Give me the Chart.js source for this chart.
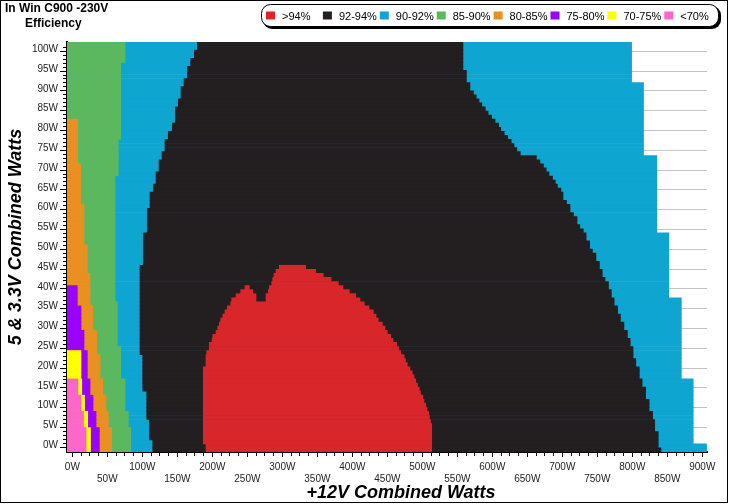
<!DOCTYPE html>
<html>
<head>
<meta charset="utf-8">
<title>In Win C900 -230V Efficiency</title>
<script src="https://cdn.jsdelivr.net/npm/chart.js@4.4.0/dist/chart.umd.min.js"></script>
<style>
  body { margin: 0; background: #fff; }
  #wrap { width: 729px; height: 504px; }
</style>
</head>
<body>
<div id="wrap"><canvas id="eff" width="729" height="504"></canvas></div>
<script>
// 5V & 3.3V combined load for each row of the map (W), bottom to top
var rowWatts = [0,1,2,3,4,5,6,7,8,9,10,11,12,13,14,15,16,17,18,19,20,21,22,23,24,25,26,27,28,29,
  30,31,32,33,34,35,36,37,38,39,40,41,42,43,44,45,46,47,48,49,50,51,52,53,54,55,56,57,58,59,
  60,61,62,63,64,65,66,67,68,69,70,71,72,73,74,75,76,77,78,79,80,81,82,83,84,85,86,87,88,89,
  90,91,92,93,94,95,96,97,98,99,100];

var bandLabels = ['>94%', '92-94%', '90-92%', '85-90%', '80-85%', '75-80%', '70-75%', '<70%'];
var bandColors = ['#d9262b', '#231f20', '#0ea5d1', '#5cb85f', '#ea8f22', '#9900ff', '#ffff00', '#ff66cc'];

// +12V load (W) where each band ends, one value per row (row 0 = 0W)
var pinkEnd = [19.6,19.6,19.6,19.6,19.6,19.6,16,16,16,16,
  12.4,12.4,12.4,12.4,8,8,8,8];

var yellowEnd = [26,26,26,26,26,26,22,22,22,22,
  17.5,17.5,17.5,17.5,13.5,13.5,13.5,13.5,12.4,12.4,
  12.4,12.4,12.4,12.4,12.4];

var purpleEnd = [38.6,38.6,38.6,38.6,38.6,38.6,33.9,33.9,33.9,33.9,
  29.6,29.6,29.6,29.6,25.3,25.3,25.3,25.3,21.4,21.4,
  21.4,21.4,21.4,21.4,21.4,16.7,16.7,16.7,16.7,16.7,
  12.4,12.4,12.4,12.4,12.4,12.4,7.1,7.1,7.1,7.1,
  7.1];

var orangeEnd = [56.3,56.3,56.3,56.3,56.3,56.3,51.4,51.4,51.4,51.4,
  48.1,48.1,48.1,48.1,43.4,43.4,43.4,43.4,39.6,39.6,
  39.6,39.6,39.6,39.6,34.9,34.9,34.9,34.9,34.9,34.9,
  29.1,29.1,29.1,29.1,29.1,29.1,25.3,25.3,25.3,25.3,
  25.3,25.3,25.3,25.3,21.4,21.4,21.4,21.4,21.4,21.4,
  21.4,16.7,16.7,16.7,16.7,16.7,16.7,16.7,16.7,16.7,
  16.7,12,12,12,12,12,12,12,12,12,
  12,7.7,7.7,7.7,7.7,7.7,7.7,7.7,7.7,7.7,
  7.7,7.7];

var greenEnd = [83.4,83.4,83.4,83.4,83.4,83.4,80,80,80,80,
  75.3,75.3,75.3,75.3,75.3,75.3,75.3,75.3,69.1,69.1,
  69.1,69.1,69.1,69.1,69.1,69.1,64.3,64.3,64.3,64.3,
  64.3,64.3,64.3,64.3,64.3,64.3,64.3,61,61,61,
  61,61,61,61,61,61,61,61,61,61,
  61,61,61,61,61,61,61,61,61,61,
  61,61,61,61,61,61,61,61,65.7,65.7,
  65.7,65.7,65.7,65.7,65.7,65.7,65.7,69.1,69.1,69.1,
  69.1,69.1,69.1,69.1,69.1,69.1,69.1,69.1,69.1,69.1,
  69.1,69.1,69.1,69.1,69.1,69.1,75.3,75.3,75.3,75.3,
  75.3];

var blueEnd = [906,906,887,887,887,887,887,887,887,887,
  887,887,887,887,887,887,887,887,870,870,
  870,870,870,870,870,870,870,870,870,870,
  870,870,870,870,870,870,870,870,852,852,
  852,852,852,852,852,852,852,852,852,852,
  852,852,852,852,835,835,835,835,835,835,
  835,835,835,835,835,835,835,835,835,835,
  835,835,835,816,816,816,816,816,816,816,
  816,816,816,816,816,816,816,816,816,816,
  816,799,799,799,799,799,799,799,799,799,
  799];

var blackStart = [114.9,114.9,114.9,110,110,110,110,110,106.3,106.3,
  106.3,106.3,106.3,106.3,106.3,100.6,100.6,100.6,100.6,100.6,
  100.6,100.6,100.6,100.6,96.7,96.7,96.7,96.7,96.7,96.7,
  96.7,96.7,96.7,96.7,96.7,96.7,96.7,96.7,96.7,96.7,
  96.7,96.7,96.7,96.7,96.7,96.7,101.4,101.4,101.4,101.4,
  101.4,101.4,101.4,101.4,107.1,107.1,107.1,107.1,107.1,107.1,
  111,111,111,111,115.7,115.7,119.6,119.6,119.6,123.9,
  123.9,123.9,128.1,128.1,132.4,132.4,132.4,137.1,137.1,142.9,
  142.9,147.1,147.1,147.1,147.1,151.4,151.4,155.3,155.3,155.3,
  159.6,159.6,164.3,164.3,164.3,169.1,169.1,174.3,174.3,178.6,
  178.6];

var blackEnd = [841,837,837,837,837,832,832,832,829,829,
  824,824,824,819,819,819,814,814,810,810,
  810,805,805,801,801,801,797,797,793,793,
  788,788,783,783,779,779,774,774,770,770,
  766,766,761,757,757,753,753,748,748,743,
  739,739,734,734,730,725,721,721,716,711,
  711,706,701,701,698,693,690,686,681,677,
  673,668,663,640,635,631,627,622,617,612,
  609,604,599,594,590,585,581,577,573,568,
  568,563,563,563,558,558,558,558,558,558,
  558];

var redStart = [191,191,187.1,187.1,187.1,187.1,187.1,187.1,187.1,187.1,
  187.1,187.1,187.1,187.1,187.1,187.1,187.1,187.1,187.1,187.1,
  187.1,191,191,191,192,195.7,195.7,199.6,200.6,205.3,
  207.7,210,212,214.9,218.1,221.4,226.3,276.7,276.7,280,
  281.4,284.9,286.3,288.1,291,295.7];

var redEnd = [513.4,513.4,513.4,513.4,513.4,513.4,513.4,511.7,510.3,509.1,
  506.7,505,502.4,500.6,497.4,495.7,493.1,490.6,488.1,485.7,
  482.4,478.6,476,473.9,469.1,466,463.4,458.1,454.9,450,
  446.7,442.9,437.1,433.9,430,423.9,417.1,411,404.9,395.7,
  386.7,380,369.6,358.6,347.7,333.4];

// the small >94% hump left of the main peak
var humpRows = [37, 38, 39, 40];
var humpStart = [227.7, 233.9, 240.6, 246.7];
var humpEnd = [262.4, 262.4, 257.7, 252.9];

var X_MIN = -7.6, X_MAX = 906.7;
var Y_MIN = -1.175, Y_MAX = 101.325;

function spans(a, b) {
  return a.map(function(v, i) { return v == null ? null : [v, b[i]]; });
}
var humpSpans = [];
humpRows.forEach(function(r, i) { humpSpans[r] = [humpStart[i], humpEnd[i]]; });

var FONT = '"Liberation Sans", Arial, sans-serif';

// frame, titles and legend box
var decor = {
  id: 'decor',
  beforeDraw: function(chart) {
    var c = chart.ctx;
    c.save();
    c.fillStyle = '#fff';
    c.fillRect(0, 0, chart.width, chart.height);
    c.restore();
  },
  afterDraw: function(chart) {
    var c = chart.ctx;
    c.save();
    c.strokeStyle = '#000';
    c.lineWidth = 1;
    c.strokeRect(0.5, 0.5, 727, 502);

    c.fillStyle = '#000';
    c.font = 'bold 12px ' + FONT;
    c.textAlign = 'left';
    c.textBaseline = 'alphabetic';
    c.fillText('In Win C900 -230V', 5, 12);
    c.fillText('Efficiency', 25, 27);

    // legend
    function rr(x, y, w, h, r) {
      c.beginPath();
      c.moveTo(x + r, y);
      c.arcTo(x + w, y, x + w, y + h, r);
      c.arcTo(x + w, y + h, x, y + h, r);
      c.arcTo(x, y + h, x, y, r);
      c.arcTo(x, y, x + w, y, r);
      c.closePath();
    }
    rr(263, 6, 458, 23, 9);
    c.fillStyle = '#000';
    c.fill();
    rr(261.5, 4.5, 457, 22, 9);
    c.fillStyle = '#fff';
    c.fill();
    c.stroke();
    c.font = '11px ' + FONT;
    bandLabels.forEach(function(lab, i) {
      var x0 = 266 + i * 56.9;
      c.fillStyle = bandColors[i];
      c.fillRect(x0, 11.5, 9, 8);
      c.fillStyle = '#000';
      c.fillText(lab, x0 + 16, 19.5);
    });

    // axis titles
    c.font = 'italic bold 18px ' + FONT;
    c.textAlign = 'center';
    c.fillText('+12V Combined Watts', 401, 498);
    c.translate(21, 237);
    c.rotate(-Math.PI / 2);
    c.fillText('5 & 3.3V Combined Watts', 0, 0);
    c.restore();
  }
};

new Chart(document.getElementById('eff'), {
  type: 'bar',
  data: {
    labels: rowWatts,
    datasets: [
      { label: bandLabels[0], data: spans(redStart, redEnd), backgroundColor: bandColors[0] },
      { label: bandLabels[0], data: humpSpans, backgroundColor: bandColors[0] },
      { label: bandLabels[1], data: spans(blackStart, blackEnd), backgroundColor: bandColors[1] },
      { label: bandLabels[7], data: pinkEnd, base: X_MIN, backgroundColor: bandColors[7] },
      { label: bandLabels[6], data: yellowEnd, base: X_MIN, backgroundColor: bandColors[6] },
      { label: bandLabels[5], data: purpleEnd, base: X_MIN, backgroundColor: bandColors[5] },
      { label: bandLabels[4], data: orangeEnd, base: X_MIN, backgroundColor: bandColors[4] },
      { label: bandLabels[3], data: greenEnd, base: X_MIN, backgroundColor: bandColors[3] },
      { label: bandLabels[2], data: blueEnd, base: X_MIN, backgroundColor: bandColors[2] }
    ]
  },
  options: {
    indexAxis: 'y',
    responsive: false,
    devicePixelRatio: 1,
    animation: false,
    events: [],
    layout: { padding: { top: 42, right: 22, bottom: 0, left: 0 } },
    datasets: {
      bar: {
        xAxisID: 'x',
        yAxisID: 'rows',
        grouped: false,
        barPercentage: 1,
        categoryPercentage: 1,
        borderWidth: 0
      }
    },
    plugins: {
      legend: { display: false },
      title: { display: false },
      tooltip: { enabled: false }
    },
    scales: {
      rows: {
        type: 'category',
        axis: 'y',
        position: 'left',
        reverse: true,
        display: false,
        offset: true
      },
      y: {
        type: 'linear',
        position: 'left',
        min: Y_MIN,
        max: Y_MAX,
        afterFit: function(s) { s.width = 67; },
        border: { display: true, color: '#000', width: 2 },
        grid: {
          color: function(ctx) {
            return ctx.tick && ctx.tick.value % 5 === 0 ? '#c4c4c4' : 'rgba(0,0,0,0)';
          },
          lineWidth: 1,
          tickColor: '#000',
          tickLength: 7,
          tickBorderDash: [7, 100],
          tickBorderDashOffset: function(ctx) {
            return ctx.tick && ctx.tick.value % 5 === 0 ? 0 : 104;
          }
        },
        ticks: {
          stepSize: 1,
          autoSkip: false,
          includeBounds: false,
          padding: 2,
          color: '#222',
          font: { family: FONT, size: 10 },
          callback: function(v) {
            if (v < 0 || v > 100) return null;
            return v % 5 === 0 ? v + 'W' : '';
          }
        }
      },
      x: {
        type: 'linear',
        position: 'bottom',
        min: X_MIN,
        max: X_MAX,
        afterFit: function(s) { s.height = 52; },
        border: { display: true, color: '#000', width: 2 },
        grid: {
          drawOnChartArea: false,
          tickColor: '#000',
          tickLength: 5,
          tickBorderDash: [5, 100],
          tickBorderDashOffset: function(ctx) {
            return ctx.tick && ctx.tick.value % 50 === 0 ? 0 : 2;
          }
        },
        ticks: {
          stepSize: 12.5,
          autoSkip: false,
          includeBounds: false,
          maxRotation: 0,
          minRotation: 0,
          padding: 4.5,
          color: '#222',
          font: { family: FONT, size: 10, lineHeight: 1.15 },
          callback: function(v) {
            if (v < 0) return null;
            if (v % 100 === 0) return v + 'W';
            if (v % 50 === 0) return ['', v + 'W'];
            return '';
          }
        }
      }
    }
  },
  plugins: [decor]
});
</script>
</body>
</html>
